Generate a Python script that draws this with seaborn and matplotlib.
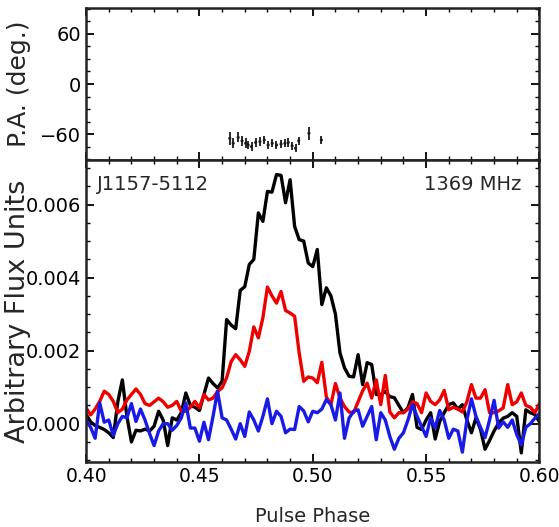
import numpy as np
import pandas as pd
import matplotlib
matplotlib.use("Agg")
import matplotlib.pyplot as plt
from matplotlib.ticker import MultipleLocator, AutoMinorLocator
import seaborn as sns

# pulse profile, flux in units of 1e-4
phase = np.round(np.arange(0.400, 0.6005, 0.002), 3)

total_I = [
    2.5, 0.5, -0.5, -1.0, -1.6, -2.5, -3.8, 6.0, 12.0, 2.0,
    -5.0, -1.8, -2.0, -1.5, -2.0, -0.7, 3.4, 1.0, -6.0, 1.6,
    1.0, 3.0, 8.4, 5.0, 4.5, 3.6, 8.0, 12.5, 11.0, 9.8,
    11.6, 28.5, 27.0, 26.0, 36.5, 37.5, 43.6, 45.0, 57.7, 55.4,
    63.6, 63.4, 68.2, 68.0, 60.5, 66.8, 54.0, 50.4, 50.0, 44.0,
    43.0, 47.7, 32.6, 37.2, 35.0, 30.0, 19.4, 15.3, 13.0, 12.8,
    18.9, 10.7, 16.7, 16.2, 8.0, 8.0, 8.8, 7.4, 7.1, 5.0,
    3.0, 4.4, 8.0, -1.0, -1.6, 1.0, 3.0, -4.2, 0.6, 3.0,
    5.2, 5.7, 4.0, 5.2, 1.0, -2.5, 1.6, -1.6, -7.0, -4.6,
    -2.0, 0.2, 1.5, 2.0, 3.0, 2.0, -8.0, 3.8, 3.0, 2.5,
    0.5,
]

linear_L = [
    4.3, 2.4, 4.0, 6.1, 8.9, 8.0, 6.1, 3.0, 4.0, 6.5,
    8.0, 9.5, 8.0, 5.5, 5.0, 6.0, 7.0, 6.0, 4.5, 5.0,
    6.1, 3.4, 3.4, 4.5, 6.1, 4.3, 8.0, 6.5, 7.0, 8.8,
    9.8, 12.6, 17.0, 18.9, 17.5, 15.7, 19.8, 26.5, 23.5, 29.0,
    37.4, 35.0, 33.0, 36.2, 31.0, 30.3, 29.4, 19.4, 11.6, 12.8,
    12.5, 11.2, 16.8, 7.3, 5.2, 11.0, 7.0, 4.7, 3.2, 3.0,
    6.0, 9.0, 11.1, 7.0, 12.0, 5.2, 13.2, 3.2, 1.6, 3.0,
    3.0, 4.0, 6.0, 5.5, 3.0, 8.4, 6.1, 5.2, 6.5, 9.1,
    3.8, 4.5, 4.0, 3.2, 6.0, 10.7, 7.0, 7.0, 9.3, 3.0,
    3.0, 3.5, 4.3, 10.7, 5.2, 6.0, 8.4, 5.0, 4.5, 3.0,
    5.5,
]

circular_V = [
    1.0, -1.0, -4.0, 5.7, 0.4, 1.0, -3.2, 0.0, 2.0, 1.6,
    5.5, 0.6, 4.0, 1.0, -2.7, -6.0, -2.0, 0.0, 0.0, -1.8,
    -0.5, 1.6, 5.7, -1.2, -1.2, -4.8, 0.4, -4.4, 2.0, 8.9,
    1.6, 1.0, -1.5, -4.2, 0.0, -3.5, 3.2, 1.0, -2.0, 2.0,
    6.8, 0.0, 3.4, 2.0, -2.5, -1.5, -1.6, 4.7, 3.5, 0.5,
    3.4, 3.0, 4.0, 6.6, 5.2, 1.0, 8.4, -4.0, 1.5, 3.4,
    3.8, -0.7, 2.0, 4.7, -4.4, 3.0, 1.0, -3.5, -7.0, -4.0,
    -2.5, 1.0, 5.2, 2.0, -0.7, -3.5, 1.6, -1.2, 3.6, 1.0,
    -4.0, -1.5, -2.0, -7.8, 1.0, 6.8, 2.0, -1.0, -3.8, 1.0,
    6.4, -1.2, 0.5, -1.0, 1.0, -3.0, -5.8, -1.0, 0.0, 1.5,
    2.8,
]

# position angle points
pa_phase = [0.4634, 0.4649, 0.4671, 0.4688, 0.4704, 0.4715, 0.4730, 0.4748,
            0.4767, 0.4786, 0.4803, 0.4821, 0.4840, 0.4860, 0.4877, 0.4892,
            0.4909, 0.4924, 0.4938, 0.4983, 0.5038]
pa_deg = [-65, -71, -64, -68, -71, -73, -75, -70, -69, -67, -73,
          -71, -73, -72, -71, -70, -74, -77, -68, -59, -67]
pa_err = [8, 6, 6, 6, 6, 5, 5, 5, 5, 5, 5,
          5, 5, 5, 5, 5, 5, 5, 5, 8, 5]

psr_name = "J1157-5112"
freq_label = "1369 MHz"


def main():
    sns.set_theme(style="ticks")
    plt.rcParams['font.family'] = ['DejaVu Sans']

    df = pd.DataFrame({'phase': phase,
                       'I': np.array(total_I) * 1e-4,
                       'L': np.array(linear_L) * 1e-4,
                       'V': np.array(circular_V) * 1e-4})

    fig = plt.figure(figsize=(5.59, 5.27), dpi=100)
    ax_pa = fig.add_axes([0.154, 0.6964, 0.811, 0.2884])
    ax = fig.add_axes([0.154, 0.1233, 0.811, 0.5731], sharex=ax_pa)

    # PA panel
    ax_pa.errorbar(pa_phase, pa_deg, yerr=pa_err, fmt='none', ecolor='k',
                   elinewidth=1.3, capsize=0)
    sns.scatterplot(x=pa_phase, y=pa_deg, ax=ax_pa, color='k', s=5,
                    edgecolor='none')
    ax_pa.set_ylim(-91, 91)
    ax_pa.yaxis.set_major_locator(MultipleLocator(60))
    ax_pa.yaxis.set_minor_locator(AutoMinorLocator(4))
    ax_pa.set_ylabel('P.A. (deg.)', fontsize=18)
    plt.setp(ax_pa.get_xticklabels(), visible=False)

    # profile panel
    sns.lineplot(data=df, x='phase', y='I', ax=ax, color='black', lw=2.4)
    sns.lineplot(data=df, x='phase', y='L', ax=ax, color='#ee0000', lw=2.4)
    sns.lineplot(data=df, x='phase', y='V', ax=ax, color='#1a1ae6', lw=2.4)
    ax.set_xlim(0.40, 0.60)
    ax.set_ylim(-0.00105, 0.00722)
    ax.xaxis.set_major_locator(MultipleLocator(0.05))
    ax.xaxis.set_minor_locator(AutoMinorLocator(5))
    ax.yaxis.set_major_locator(MultipleLocator(0.002))
    ax.yaxis.set_minor_locator(AutoMinorLocator(4))
    ax.xaxis.set_major_formatter(plt.FormatStrFormatter('%.2f'))
    ax.yaxis.set_major_formatter(plt.FormatStrFormatter('%.3f'))
    ax.set_xlabel('Pulse Phase', fontsize=14, labelpad=15)
    ax.set_ylabel('Arbitrary Flux Units', fontsize=19.5)
    ax.text(0.025, 0.95, psr_name, transform=ax.transAxes, fontsize=14,
            ha='left', va='top')
    ax.text(0.96, 0.95, freq_label, transform=ax.transAxes, fontsize=14,
            ha='right', va='top')

    for a in (ax_pa, ax):
        for s in a.spines.values():
            s.set_linewidth(1.8)
            s.set_color('#222222')
        a.tick_params(which='both', direction='in', top=True, right=True,
                      labelsize=14, colors='black')
        a.tick_params(which='major', length=6, width=1.3)
        a.tick_params(which='minor', length=3, width=1.0)
        a.yaxis.set_label_coords(-0.122, 0.5)
    ax.tick_params(axis='x', labelsize=13.5)

    fig.savefig('out.png', dpi=100)
    plt.close(fig)


if __name__ == "__main__":
    main()
